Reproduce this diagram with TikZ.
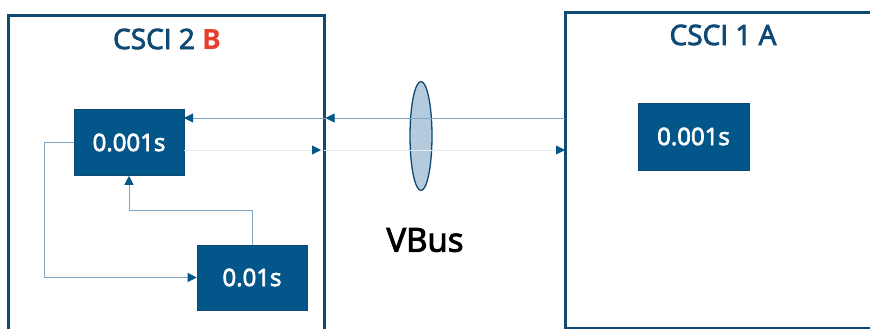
\documentclass[tikz,border=0pt]{standalone}
\usepackage{fontspec}
\setmainfont{Open Sans}
\newfontfamily\medfont{Open Sans}[FakeBold=3]
\usetikzlibrary{positioning, arrows.meta, shapes.geometric}

\definecolor{framedark}{RGB}{14,74,116}
\definecolor{taskblue}{RGB}{2,86,138}
\definecolor{linkblue}{RGB}{128,166,196}
\definecolor{faintblue}{RGB}{226,237,244}
\definecolor{ringfill}{RGB}{180,203,222}
\definecolor{markred}{RGB}{230,64,44}

\tikzset{
  csci/.style={draw=framedark, line width=3pt, inner sep=0pt},
  title/.style={text=framedark, font=\medfont\fontsize{28}{28}\selectfont},
  task/.style={fill=taskblue, draw=framedark, line width=0.6pt, text=white,
    inner sep=0pt, minimum width=110pt, minimum height=66pt,
    font=\medfont\fontsize{24}{24}\selectfont},
  link/.style={draw=linkblue, line width=0.9pt,
    -{Triangle[length=9pt, width=9pt, color=taskblue]}},
  faintlink/.style={link, draw=faintblue}
}

\begin{document}
\begin{tikzpicture}[x=1pt, y=-1pt]
  \useasboundingbox (0,0) rectangle (870,329);
  % the two CSCI frames
  \node[csci, minimum width=316pt, minimum height=329pt] (frameB) at (166,180.5) {};
  \node[csci, minimum width=320pt, minimum height=315pt] (frameA) at (725,170.5) {};
  \node[title] (titleB) at (167,39) {CSCI 2 {\color{markred}\normalfont\fontsize{28}{28}\selectfont\bfseries B}};
  \node[title] (titleA) at (723,35) {CSCI 1 A};

  % tasks
  \node[task] (taskB1) at (129,142.5) {0.001s};
  \node[task, minimum height=65pt] (taskB2) at (252,277.5) {0.01s};
  \node[task, minimum width=111pt, minimum height=67pt] (taskA1) at (693.5,136.5) {0.001s};

  % bus
  \node[ellipse, draw=framedark, fill=ringfill, line width=1.3pt, inner sep=0pt,
    minimum width=22pt, minimum height=109pt] (ring) at (421,136) {};
  \node[font=\medfont\fontsize{33}{33}\selectfont] (vbus) at (425,240) {VBus};

  \coordinate (aOut) at (565,118);
  \coordinate (bIn) at (325.5,118);
  \coordinate (bInner) at (184,118);
  \coordinate (bOut) at (321,150);
  \coordinate (bEdge) at (324,150);
  \coordinate (aIn) at (565,150);
  \coordinate (b1Right) at (184,150);

  \draw[link] (aOut) -- (bIn);
  \draw[link] (bIn) -- (bInner);
  \draw[faintlink] (b1Right) -- (bOut);
  \draw[faintlink] (bEdge) -- (aIn);

  % loop inside CSCI 2
  \draw[link] (taskB1.west) -- ++(-29,0) |- (taskB2.west);
  \draw[link] (taskB2.north) -- ++(0,-34) -| (taskB1.south);
\end{tikzpicture}
\end{document}
